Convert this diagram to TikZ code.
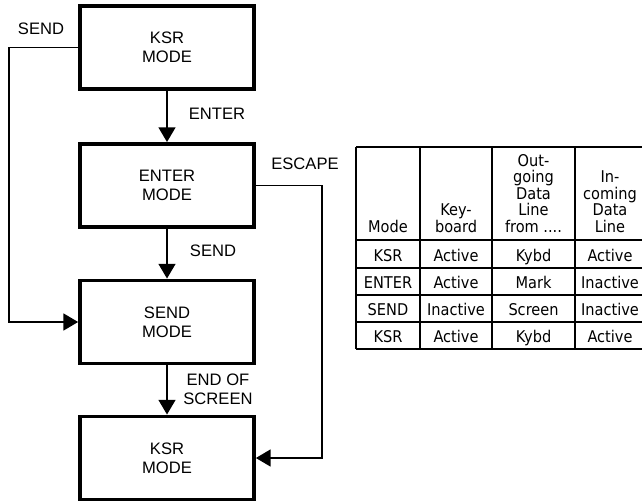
\documentclass[tikz,border=0pt]{standalone}
\usepackage{fontspec}
\setmainfont{Liberation Sans}
\newfontfamily\gridfont{DejaVu Sans Condensed}
\usetikzlibrary{arrows.meta}

\tikzset{
  modebox/.style={draw, line width=2.6pt, minimum width=4.35cm, minimum height=2.08cm,
    align=center, inner sep=0pt, font=\fontsize{11.8pt}{13.6pt}\selectfont},
  flow/.style={line width=1.4pt, -{Triangle[length=10.5pt,width=12pt]}},
  cue/.style={inner sep=0pt, align=center, font=\fontsize{11.8pt}{13.6pt}\selectfont},
  cell/.style={inner sep=0pt, anchor=base, font=\gridfont\fontsize{11.5pt}{11.8pt}\selectfont},
  headcell/.style={cell, anchor=south, align=center},
  heavy/.style={line width=2pt},
  light/.style={line width=0.9pt},
}

\begin{document}
\begin{tikzpicture}[x=0.025cm, y=-0.025cm]
  \useasboundingbox (0,0) rectangle (642,504);

  % mode boxes
  \node[modebox] (ksrtop) at (167,47.5) {KSR\\MODE};
  \node[modebox] (entermode) at (167,185.5) {ENTER\\MODE};
  \node[modebox] (sendmode) at (167,322) {SEND\\MODE};
  \node[modebox] (ksrbottom) at (167,458) {KSR\\MODE};

  % transitions
  \draw[flow] (ksrtop) -- (entermode);
  \draw[flow] (entermode) -- (sendmode);
  \draw[flow] (sendmode) -- (ksrbottom);
  \draw[flow] (ksrtop.west) -- ++(-69,0) |- (sendmode.west);
  \draw[flow] (entermode.east) -- ++(66,0) |- (ksrbottom.east);

  \node[cue] (enterlbl) at (217,113.5) {ENTER};
  \node[cue] (sendlbl) at (213,250.5) {SEND};
  \node[cue] (eoslbl) at (218,389) {END OF\\SCREEN};
  \node[cue] (sendloop) at (41,28.5) {SEND};
  \node[cue] (escapelbl) at (305,164) {ESCAPE};

  % mode table
  \draw[heavy] (356,147) -- (645,147);
  \draw[heavy] (356,240) -- (645,240);
  \draw[heavy] (356,349) -- (645,349);
  \foreach \y in {268,295,322}
    \draw[light] (356,\y) -- (645,\y);
  \draw[line width=1.3pt] (356,147) -- (356,349);
  \foreach \x in {420,492,575}
    \draw[line width=1.1pt] (\x,147) -- (\x,349);

  \node[headcell] (hmode) at (388,233) {Mode};
  \node[headcell] (hkey) at (456,233) {Key-\\board};
  \node[headcell] (hout) at (533.5,233) {Out-\\going\\Data\\Line\\from ....};
  \node[headcell] (hin) at (610,233) {In-\\coming\\Data\\Line};

  \foreach \row/\md/\kb/\ou/\inc in {1/KSR/Active/Kybd/Active,
      2/ENTER/Active/Mark/Inactive,
      3/SEND/Inactive/Screen/Inactive,
      4/KSR/Active/Kybd/Active} {
    \node[cell] (md\row) at (388,234+27*\row) {\md};
    \node[cell] (kb\row) at (456,234+27*\row) {\kb};
    \node[cell] (ou\row) at (533.5,234+27*\row) {\ou};
    \node[cell] (in\row) at (610,234+27*\row) {\inc};
  }
\end{tikzpicture}
\end{document}
